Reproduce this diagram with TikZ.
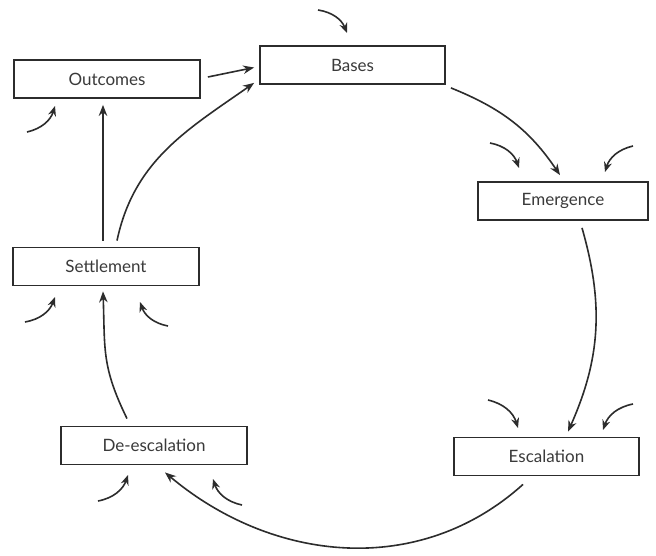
\documentclass[tikz,border=0pt]{standalone}
\usepackage{fontspec}
\setmainfont{Lato}
\usetikzlibrary{arrows.meta}
\definecolor{ink}{HTML}{2C2C2C}
\definecolor{txt}{HTML}{3A3A3A}
\tikzset{
  stagebox/.style={draw=ink, line width=1.8pt, rectangle, minimum width=#1, minimum height=38pt,
    inner sep=0pt, text=txt, font=\fontsize{17}{19}\selectfont},
  flow/.style={draw=ink, line width=1.6pt, -{Stealth[length=11pt,width=8.5pt]}},
  influence/.style={draw=ink, line width=1.6pt, -{Stealth[length=10pt,width=8pt]}}
}
\begin{document}
\begin{tikzpicture}[x=1pt,y=-1pt]
\useasboundingbox (0,0) rectangle (656,555);
\fill[white] (0,0) rectangle (656,555);
% stages
\node[stagebox=186pt] (outcomes) at (107,79) {Outcomes};
\node[stagebox=185pt] (bases) at (352.5,65) {Bases};
\node[stagebox=170pt] (emergence) at (563,201) {Emergence};
\node[stagebox=186pt] (settle) at (106,266.5) {Settlement};
\node[stagebox=186pt] (deesc) at (154,445.5) {De-escalation};
\node[stagebox=185pt] (escal) at (546.5,456.5) {Escalation};
% main flow
\draw[flow] ([xshift=7pt,yshift=2pt]outcomes.east) -- ([xshift=-5pt,yshift=-2.5pt]bases.west);
\draw[flow] ([xshift=11pt,yshift=6pt]settle.north) to[out=78,in=215] ([xshift=-5pt,yshift=2pt]bases.south west);
\draw[flow] ([xshift=-3pt,yshift=6pt]settle.north) -- ([xshift=-4pt,yshift=-6pt]outcomes.south);
\draw[flow] ([xshift=5pt,yshift=-3pt]bases.south east) to[out=-22,in=124] ([xshift=-3pt,yshift=6pt]emergence.north);
\draw[flow] ([xshift=19pt,yshift=-7pt]emergence.south) to[out=-74,in=66] ([xshift=21.5pt,yshift=5pt]escal.north);
\draw[flow] ([xshift=-23.5pt,yshift=-8pt]escal.south) to[out=-138,in=-40] ([xshift=11pt,yshift=-7pt]deesc.south);
\draw[flow] ([xshift=-27pt,yshift=7pt]deesc.north) to[out=116,in=-88,looseness=1.15] ([xshift=-3pt,yshift=-5pt]settle.south);
% external influences
\coordinate (b1s) at (318,10);  \coordinate (b1e) at (347,33);
\coordinate (o1s) at (27,132);  \coordinate (o1e) at (55,106);
\coordinate (e1s) at (490,143); \coordinate (e1e) at (519,168);
\coordinate (e2s) at (633,146); \coordinate (e2e) at (605,172);
\coordinate (s1s) at (25,322);  \coordinate (s1e) at (55,297);
\coordinate (s2s) at (168,326); \coordinate (s2e) at (140,302);
\coordinate (d1s) at (98,501);  \coordinate (d1e) at (128,475);
\coordinate (d2s) at (242,505); \coordinate (d2e) at (213,479);
\coordinate (x1s) at (488,400); \coordinate (x1e) at (518,428);
\coordinate (x2s) at (633,404); \coordinate (x2e) at (603,430);
\draw[influence] (b1s) to[bend left=30] (b1e);
\draw[influence] (o1s) to[bend right=30] (o1e);
\draw[influence] (e1s) to[bend left=30] (e1e);
\draw[influence] (e2s) to[bend right=30] (e2e);
\draw[influence] (s1s) to[bend right=30] (s1e);
\draw[influence] (s2s) to[bend left=30] (s2e);
\draw[influence] (d1s) to[bend right=30] (d1e);
\draw[influence] (d2s) to[bend left=30] (d2e);
\draw[influence] (x1s) to[bend left=30] (x1e);
\draw[influence] (x2s) to[bend right=30] (x2e);
\end{tikzpicture}
\end{document}
